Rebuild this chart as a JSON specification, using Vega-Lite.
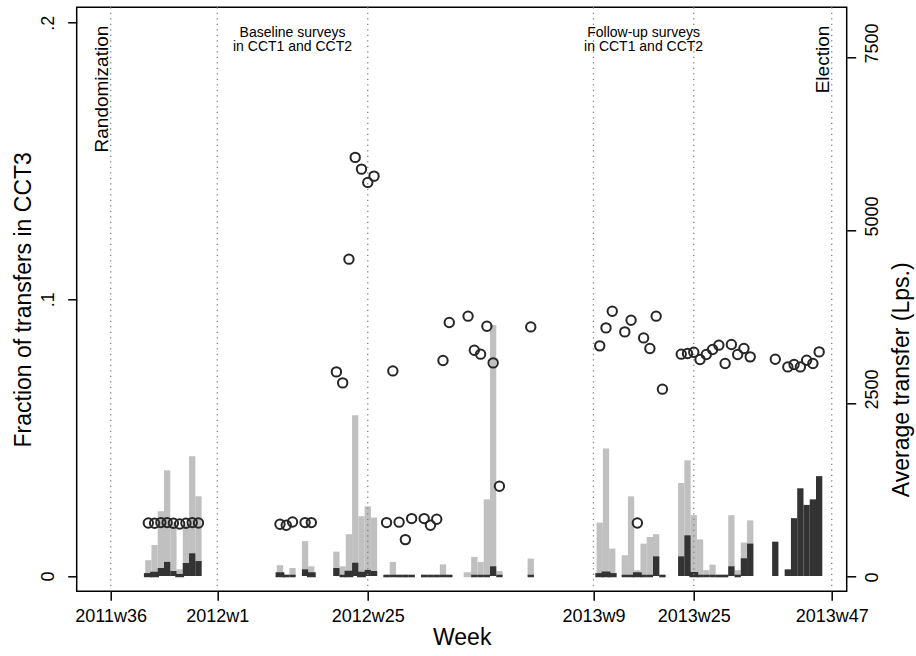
{
  "$schema": "https://vega.github.io/schema/vega-lite/v6.json",
  "width": 770,
  "height": 584,
  "autosize": {"type": "none"},
  "padding": {"left": 76.7, "top": 7.3, "right": 69.3, "bottom": 64.7},
  "background": "white",
  "datasets": {
    "weekly": [
      {"week": 41, "light": 0.0057, "dark": 0.0006, "avg": 766},
      {"week": 42, "light": 0.0112, "dark": 0.0011, "avg": 762},
      {"week": 43, "light": 0.0234, "dark": 0.0029, "avg": 772},
      {"week": 44, "light": 0.0382, "dark": 0.0051, "avg": 772},
      {"week": 45, "light": 0.0194, "dark": 0.0018, "avg": 762},
      {"week": 46, "light": 0.0024, "dark": 0.0003, "avg": 752},
      {"week": 47, "light": 0.0183, "dark": 0.0047, "avg": 762},
      {"week": 48, "light": 0.0433, "dark": 0.0082, "avg": 772},
      {"week": 49, "light": 0.0288, "dark": 0.0054, "avg": 766},
      {"week": 62, "light": 0.0039, "dark": 0.0009, "avg": 748},
      {"week": 63, "light": 0, "dark": 0, "avg": 733},
      {"week": 64, "light": 0.0029, "dark": 0, "avg": 781},
      {"week": 66, "light": 0.0126, "dark": 0.0024, "avg": 772},
      {"week": 67, "light": 0.0035, "dark": 0.0009, "avg": 772},
      {"week": 71, "light": 0.0088, "dark": 0.0029, "avg": 2950},
      {"week": 72, "light": 0.0035, "dark": 0, "avg": 2791},
      {"week": 73, "light": 0.0151, "dark": 0.0014, "avg": 4579},
      {"week": 74, "light": 0.0581, "dark": 0.0048, "avg": 6050},
      {"week": 75, "light": 0.0216, "dark": 0.0011, "avg": 5880},
      {"week": 76, "light": 0.0252, "dark": 0.0022, "avg": 5688},
      {"week": 77, "light": 0.0211, "dark": 0.0018, "avg": 5779},
      {"week": 79, "light": 0, "dark": 0, "avg": 772},
      {"week": 80, "light": 0.0051, "dark": 0, "avg": 2964},
      {"week": 81, "light": 0, "dark": 0, "avg": 778},
      {"week": 82, "light": 0, "dark": 0, "avg": 526},
      {"week": 83, "light": 0, "dark": 0, "avg": 830},
      {"week": 85, "light": 0, "dark": 0, "avg": 830},
      {"week": 86, "light": 0, "dark": 0, "avg": 733},
      {"week": 87, "light": 0, "dark": 0, "avg": 820},
      {"week": 88, "light": 0.0042, "dark": 0, "avg": 3114},
      {"week": 89, "light": 0, "dark": 0, "avg": 3664},
      {"week": 92, "light": 0.0009, "dark": null, "avg": 3755},
      {"week": 93, "light": 0.0069, "dark": 0, "avg": 3263},
      {"week": 94, "light": 0.0051, "dark": 0, "avg": 3206},
      {"week": 95, "light": 0.0277, "dark": 0, "avg": 3610},
      {"week": 96, "light": 0.0907, "dark": 0.0035, "avg": 3080},
      {"week": 97, "light": 0.0018, "dark": 0, "avg": 1297},
      {"week": 102, "light": 0.0063, "dark": 0, "avg": 3600},
      {"week": 113, "light": 0.0193, "dark": 0.0006, "avg": 3326},
      {"week": 114, "light": 0.0461, "dark": 0.0012, "avg": 3586},
      {"week": 115, "light": 0.0099, "dark": 0.0006, "avg": 3827},
      {"week": 117, "light": 0.0075, "dark": 0, "avg": 3528},
      {"week": 118, "light": 0.0288, "dark": 0, "avg": 3697},
      {"week": 119, "light": 0.0021, "dark": 0.0009, "avg": 766},
      {"week": 120, "light": 0.0117, "dark": 0, "avg": 3441},
      {"week": 121, "light": 0.0141, "dark": 0, "avg": 3288},
      {"week": 122, "light": 0.0151, "dark": 0.0071, "avg": 3755},
      {"week": 123, "light": 0, "dark": 0, "avg": 2700},
      {"week": 126, "light": 0.0336, "dark": 0.0071, "avg": 3206},
      {"week": 127, "light": 0.0418, "dark": 0.0147, "avg": 3216},
      {"week": 128, "light": 0.022, "dark": 0.001, "avg": 3234},
      {"week": 129, "light": 0.0132, "dark": 0, "avg": 3129},
      {"week": 130, "light": 0.0021, "dark": 0, "avg": 3201},
      {"week": 131, "light": 0.0041, "dark": 0, "avg": 3274},
      {"week": 132, "light": 0, "dark": 0, "avg": 3336},
      {"week": 133, "light": 0, "dark": 0, "avg": 3071},
      {"week": 134, "light": 0.022, "dark": 0.0035, "avg": 3346},
      {"week": 135, "light": 0.0021, "dark": 0, "avg": 3201},
      {"week": 136, "light": 0.0121, "dark": 0.0064, "avg": 3288},
      {"week": 137, "light": 0.0201, "dark": 0.0117, "avg": 3167},
      {"week": 141, "light": null, "dark": 0.0124, "avg": 3133},
      {"week": 143, "light": null, "dark": 0.0024, "avg": 3022},
      {"week": 144, "light": null, "dark": 0.0209, "avg": 3057},
      {"week": 145, "light": null, "dark": 0.0317, "avg": 3022},
      {"week": 146, "light": null, "dark": 0.0257, "avg": 3119},
      {"week": 147, "light": null, "dark": 0.0277, "avg": 3071},
      {"week": 148, "light": null, "dark": 0.0361, "avg": 3239}
    ],
    "lines": [{"week": 35}, {"week": 52}, {"week": 76}, {"week": 112}, {"week": 128}, {"week": 150}],
    "vtext": [{"week": 35, "label": "Randomization"}, {"week": 150, "label": "Election"}],
    "htext": [{"week": 64, "label": "Baseline surveys\nin CCT1 and CCT2"}, {"week": 120, "label": "Follow-up surveys\nin CCT1 and CCT2"}]
  },
  "encoding": {
    "x": {
      "field": "week", "type": "quantitative",
      "scale": {"domain": [29.577, 152.392], "nice": false, "zero": false, "padding": 0},
      "axis": {
        "values": [35, 52, 76, 112, 128, 150],
        "labelExpr": "datum.value==35?'2011w36':datum.value==52?'2012w1':datum.value==76?'2012w25':datum.value==112?'2013w9':datum.value==128?'2013w25':'2013w47'",
        "title": "Week", "labelPadding": 7, "titlePadding": 1,
        "labelFlush": false, "labelOverlap": false
      }
    }
  },
  "layer": [
    {
      "layer": [
        {
          "data": {"name": "weekly"},
          "mark": {"type": "bar", "color": "#c0c0c0", "stroke": "#c0c0c0", "width": 6.3},
          "encoding": {
            "y": {"field": "light", "type": "quantitative",
              "scale": {"domain": [-0.005533, 0.20557], "nice": false, "zero": false},
              "axis": {"values": [0, 0.1, 0.2], "labelExpr": "datum.value<0.05?'0':datum.value<0.15?'.1':'.2'", "title": "Fraction of transfers in CCT3", "labelAngle": 270, "labelAlign": "center", "labelBaseline": "bottom", "labelPadding": 10, "titlePadding": 4}},
            "strokeWidth": {"condition": {"test": "datum.light < 0.0015", "value": 2.5}, "value": 0}
          }
        },
        {
          "data": {"name": "weekly"},
          "mark": {"type": "bar", "color": "#333333", "stroke": "#333333", "width": 6.3},
          "encoding": {
            "y": {"field": "dark", "type": "quantitative",
              "scale": {"domain": [-0.005533, 0.20557], "nice": false, "zero": false},
              "axis": {"values": [0, 0.1, 0.2], "labelExpr": "datum.value<0.05?'0':datum.value<0.15?'.1':'.2'", "title": "Fraction of transfers in CCT3", "labelAngle": 270, "labelAlign": "center", "labelBaseline": "bottom", "labelPadding": 10, "titlePadding": 4}},
            "strokeWidth": {"condition": {"test": "datum.dark < 0.0015", "value": 2.5}, "value": 0}
          }
        },
        {
          "data": {"name": "lines"},
          "mark": {"type": "rule", "color": "#808080", "strokeWidth": 1.3, "strokeDash": [1.3, 4.2]},
          "encoding": {}
        },
        {
          "data": {"name": "vtext"},
          "mark": {"type": "text", "angle": 270, "align": "right", "baseline": "alphabetic", "dx": -3, "dy": -3, "fontSize": 19, "font": "Liberation Sans", "color": "#000"},
          "encoding": {
            "y": {"datum": 0.2, "type": "quantitative",
              "scale": {"domain": [-0.005533, 0.20557], "nice": false, "zero": false},
              "axis": {"values": [0, 0.1, 0.2], "labelExpr": "datum.value<0.05?'0':datum.value<0.15?'.1':'.2'", "title": "Fraction of transfers in CCT3", "labelAngle": 270, "labelAlign": "center", "labelBaseline": "bottom", "labelPadding": 10, "titlePadding": 4}},
            "text": {"field": "label"}
          }
        },
        {
          "data": {"name": "htext"},
          "mark": {"type": "text", "align": "center", "baseline": "top", "dy": 3, "fontSize": 14, "lineHeight": 14.5, "lineBreak": "\n", "font": "Liberation Sans", "color": "#000"},
          "encoding": {
            "y": {"datum": 0.2, "type": "quantitative",
              "scale": {"domain": [-0.005533, 0.20557], "nice": false, "zero": false},
              "axis": {"values": [0, 0.1, 0.2], "labelExpr": "datum.value<0.05?'0':datum.value<0.15?'.1':'.2'", "title": "Fraction of transfers in CCT3", "labelAngle": 270, "labelAlign": "center", "labelBaseline": "bottom", "labelPadding": 10, "titlePadding": 4}},
            "text": {"field": "label"}
          }
        }
      ]
    },
    {
      "data": {"name": "weekly"},
      "mark": {"type": "point", "shape": "circle", "filled": false, "stroke": "#262626", "strokeWidth": 2, "size": 88, "opacity": 1},
      "encoding": {
        "y": {"field": "avg", "type": "quantitative",
          "scale": {"domain": [-221, 8219], "nice": false, "zero": false},
          "axis": {"orient": "right", "values": [0, 2500, 5000, 7500], "format": "d", "title": "Average transfer (Lps.)", "labelAngle": 270, "labelAlign": "left", "labelOffset": 6, "labelBaseline": "top", "labelPadding": 8, "titleAngle": 270, "titleBaseline": "top", "titlePadding": 9, "titleY": 372}}
      }
    }
  ],
  "resolve": {"scale": {"y": "independent"}},
  "config": {
    "font": "Liberation Sans",
    "view": {"stroke": "#000", "strokeWidth": 1.5},
    "axis": {
      "domain": false, "grid": false,
      "tickColor": "#000", "tickWidth": 1.5, "tickSize": 9,
      "labelColor": "#000", "titleColor": "#000",
      "labelFont": "Liberation Sans", "titleFont": "Liberation Sans",
      "labelFontSize": 18, "titleFontSize": 23, "titleFontWeight": "normal"
    }
  }
}
